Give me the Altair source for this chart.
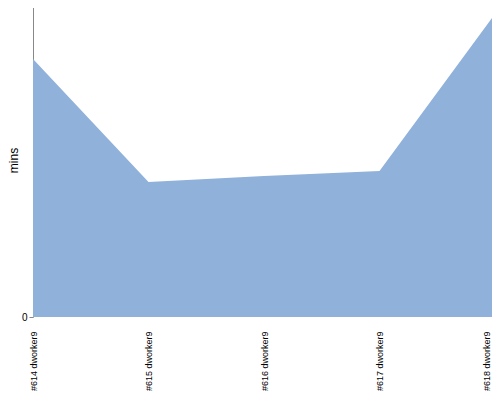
import altair as alt
import pandas as pd

builds = ["#614 dworker9", "#615 dworker9", "#616 dworker9", "#617 dworker9", "#618 dworker9"]
mins = [258, 135, 141, 146, 303]

df = pd.DataFrame({"build": builds, "mins": mins})

last = builds[-1]

chart = alt.Chart(df).mark_area(color="#8FB1DA", opacity=1, line=False).encode(
    x=alt.X("build:N", sort=builds, title=None,
            scale=alt.Scale(type="point", padding=0),
            axis=alt.Axis(labelAngle=-90, labelAlign="right", labelBaseline="middle",
                          labelPadding=14, ticks=False, domain=False, grid=False,
                          labelOffset={"condition": {"test": f"datum.value == '{last}'", "value": -9}, "value": 0},
                          labelFont="Liberation Sans", labelFontSize=9, labelColor="#000000")),
    y=alt.Y("mins:Q", title="mins", scale=alt.Scale(domain=[0, 317], nice=False),
            axis=alt.Axis(values=[0], grid=False, domainColor="#888888", tickColor="#888888",
                          tickSize=4, labelPadding=2, labelFont="Liberation Sans", labelFontSize=10,
                          labelColor="#000000", titleFont="Liberation Sans", titleFontSize=12,
                          titleFontWeight="normal", titleColor="#000000", titleX=-20, titleY=160,
                          titleAngle=-90, titleAlign="center", titleBaseline="middle")),
).properties(
    width=462, height=317,
    autosize=alt.AutoSizeParams(type="none"),
    padding={"left": 25, "top": -8, "right": -3, "bottom": 75},
).configure_view(stroke=None)

chart.save("out.html", embed_options={"renderer": "svg", "actions": False})
